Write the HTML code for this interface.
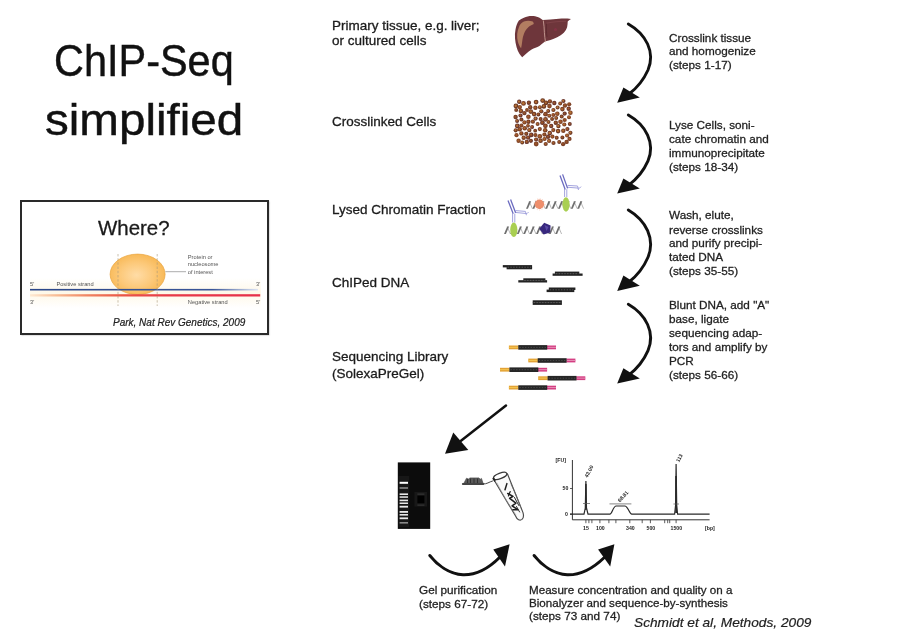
<!DOCTYPE html>
<html><head><meta charset="utf-8"><title>ChIP-Seq simplified</title>
<style>
html,body{margin:0;padding:0;background:#fff;}
body{width:902px;height:631px;position:relative;overflow:hidden;font-family:"Liberation Sans",sans-serif;color:#222;}
.t{position:absolute;white-space:nowrap;transform-origin:0 0;line-height:1;}
.title{font-size:44.7px;color:#111;-webkit-text-stroke:.45px #111;}
.lab{font-size:13px;color:#1c1c1c;transform:scaleX(1.037);-webkit-text-stroke:.3px #1c1c1c;}
.step{font-size:11.4px;color:#222;transform:scaleX(1.03);-webkit-text-stroke:.28px #222;}
.cite{font-style:italic;color:#222;-webkit-text-stroke:.2px #222;}
svg{position:absolute;left:0;top:0;}
#slide{position:absolute;left:0;top:0;width:902px;height:631px;background:#fff;filter:blur(.5px);}
.box{position:absolute;left:19.8px;top:199.8px;width:249.6px;height:135.7px;border:2px solid #2a2a2a;box-shadow:.5px .5px 1.5px rgba(0,0,0,.35);background:#fff;box-sizing:border-box;}
</style></head><body>
<div id="slide">
<div class="t title" id="t1" style="left:54px;top:38.7px;transform:scaleX(.9275)">ChIP-Seq</div>
<div class="t title" id="t2" style="left:45px;top:98.2px;transform:scaleX(1.064)">simplified</div>
<div class="box"></div>
<div class="t" id="where" style="left:97.6px;top:217.9px;font-size:20px;color:#1a1a1a;-webkit-text-stroke:.3px #1a1a1a;transform:scaleX(1.022)">Where?</div>
<div class="t cite" id="park" style="left:113px;top:318.1px;font-size:10px;">Park, Nat Rev Genetics, 2009</div>

<div class="t lab" id="l1a" style="left:332.3px;top:18.5px;">Primary tissue, e.g. liver;</div>
<div class="t lab" id="l1b" style="left:332.3px;top:33.6px;">or cultured cells</div>
<div class="t lab" id="l2" style="left:332.3px;top:114.6px;">Crosslinked Cells</div>
<div class="t lab" id="l3" style="left:332.3px;top:202.6px;">Lysed Chromatin Fraction</div>
<div class="t lab" id="l4" style="left:332.3px;top:276.2px;">ChIPed DNA</div>
<div class="t lab" id="l5a" style="left:332.3px;top:350.3px;">Sequencing Library</div>
<div class="t lab" id="l5b" style="left:332.3px;top:366.6px;">(SolexaPreGel)</div>

<div class="t step" id="s1a" style="left:669px;top:32.65px;">Crosslink tissue</div>
<div class="t step" id="s1b" style="left:669px;top:46.25px;">and homogenize</div>
<div class="t step" id="s1c" style="left:669px;top:59.95px;">(steps 1-17)</div>

<div class="t step" id="s2a" style="left:669px;top:120.35px;">Lyse Cells, soni-</div>
<div class="t step" id="s2b" style="left:669px;top:134.25px;">cate chromatin and</div>
<div class="t step" id="s2c" style="left:669px;top:148.15px;">immunoprecipitate</div>
<div class="t step" id="s2d" style="left:669px;top:161.95px;">(steps 18-34)</div>

<div class="t step" id="s3a" style="left:669px;top:210.35px;">Wash, elute,</div>
<div class="t step" id="s3b" style="left:669px;top:224.55px;">reverse crosslinks</div>
<div class="t step" id="s3c" style="left:669px;top:238.15px;">and purify precipi-</div>
<div class="t step" id="s3d" style="left:669px;top:252.45px;">tated DNA</div>
<div class="t step" id="s3e" style="left:669px;top:265.95px;">(steps 35-55)</div>

<div class="t step" id="s4a" style="left:669px;top:300.35px;">Blunt DNA, add "A"</div>
<div class="t step" id="s4b" style="left:669px;top:313.85px;">base, ligate</div>
<div class="t step" id="s4c" style="left:669px;top:327.85px;">sequencing adap-</div>
<div class="t step" id="s4d" style="left:669px;top:341.95px;">tors and amplify by</div>
<div class="t step" id="s4e" style="left:669px;top:356.25px;">PCR</div>
<div class="t step" id="s4f" style="left:669px;top:369.55px;">(steps 56-66)</div>

<div class="t step" id="g1" style="left:419.3px;top:584.9px;">Gel purification</div>
<div class="t step" id="g2" style="left:419.3px;top:598.7px;">(steps 67-72)</div>
<div class="t step" id="m1" style="left:529.4px;top:584.55px;transform:scaleX(1.02);">Measure concentration and quality on a</div>
<div class="t step" id="m2" style="left:529.4px;top:598.25px;transform:scaleX(1.02);">Bionalyzer and sequence-by-synthesis</div>
<div class="t step" id="m3" style="left:529.4px;top:611.35px;">(steps 73 and 74)</div>
<div class="t cite" id="schmidt" style="left:633.8px;top:616.4px;font-size:13.3px;transform:scaleX(1.03)">Schmidt et al, Methods, 2009</div>

<svg id="art" width="902" height="631" viewBox="0 0 902 631">
<defs>
<radialGradient id="og" cx="48%" cy="52%" r="58%"><stop offset="0" stop-color="#ffdca6"/><stop offset=".55" stop-color="#fcc878"/><stop offset="1" stop-color="#f7b54e"/></radialGradient>
<linearGradient id="bl" x1="0" x2="1"><stop offset="0" stop-color="#2a4688"/><stop offset=".8" stop-color="#3a5698"/><stop offset="1" stop-color="#dfe6f4"/></linearGradient>
<linearGradient id="rd" x1="0" x2="1"><stop offset="0" stop-color="#fdead4"/><stop offset=".12" stop-color="#f8ba92"/><stop offset=".25" stop-color="#f08462"/><stop offset=".4" stop-color="#ea5646"/><stop offset=".6" stop-color="#e83a48"/><stop offset="1" stop-color="#e6304a"/></linearGradient>
<linearGradient id="yb" x1="0" x2="0" y1="0" y2="1"><stop offset="0" stop-color="#fff" /><stop offset=".5" stop-color="#fef8e8"/><stop offset="1" stop-color="#fff"/></linearGradient>
</defs>

<!-- Where? inset -->
<g id="inset">
<rect x="30" y="278" width="231" height="30" fill="url(#yb)"/>
<ellipse cx="137.6" cy="274.3" rx="27.5" ry="20.2" fill="url(#og)" stroke="#e9a43c" stroke-width="0.7"/>
<rect x="30" y="288.9" width="228" height="1.6" fill="url(#bl)"/>
<rect x="30" y="294.2" width="230.2" height="2.3" fill="url(#rd)"/>
<path d="M118 254 V306 M157.2 254 V306" stroke="#a8987a" stroke-width=".6" stroke-dasharray="2.4 1.8" fill="none"/>
<path d="M165.4 271.7 H186" stroke="#888" stroke-width=".7"/>
<g font-family="Liberation Sans, sans-serif" font-size="5.7" fill="#555">
<text x="30" y="286">5'</text><text x="56.4" y="286">Positive strand</text><text x="256" y="286">3'</text>
<text x="30" y="303.8">3'</text><text x="187.8" y="303.8">Negative strand</text><text x="256" y="303.8">5'</text>
<text x="187.8" y="259.2">Protein or</text><text x="187.8" y="266.4">nucleosome</text><text x="187.8" y="273.5">of interest</text>
</g>
</g>

<!-- liver -->
<g id="liver">
<path d="M518.9 20.5 C520.4 19.3 522 18.4 523.9 17.8 C526.3 16.8 529 16.1 531.6 16.1 C534 16.1 536.4 16.5 538.3 17.2 C540 17.9 541.4 19.2 542.7 20 C545.2 19.9 548 19.6 550.5 19.4 C554.2 19.1 558 18.7 561.6 18.5 C564.8 18.4 568 18.5 571 18.9 C569.6 19.6 568.4 20.5 567.7 21.6 C567.6 23.5 567.6 25.4 567.1 27.2 C566.4 29.2 565.2 31.1 563.8 32.7 C561.9 34.6 559.6 36.1 557.2 37.2 C555 38.3 552.7 39.2 550.5 40 C548.6 40.6 546.8 41 545 41.6 C543 42.9 541.2 44.6 539.4 46 C536.9 47.4 534.2 48.2 531.6 49.4 C529.6 50.6 527.8 52.3 526.1 53.8 C524.8 55 523.5 56.2 522.2 57.2 C521.1 56.3 520.2 55.1 519.4 53.8 C518.2 51.7 517.3 49.5 516.6 47.2 C515.8 44.3 515.2 41.3 515 38.3 C514.8 35.3 514.9 32.3 515.5 29.4 C516.1 26.2 517.1 23 518.9 20.5 Z" fill="#6e363b"/>
<path d="M518.9 27.2 C519.8 24.6 521.5 22.7 523.9 21.6 C526.7 20.5 530 20.6 532.7 21.6 C533.3 22.3 533.7 23.1 533.8 23.9 C531.7 24.7 529.8 25.7 528.3 27.2 C526.3 29.1 524.9 31.4 523.9 33.9 C522.9 36.4 522.5 39 522.2 41.6 C521.9 43.9 521.6 46.1 521.1 48.3 C519.5 46.4 518.4 44.1 517.8 41.6 C517.2 39.1 517 36.5 517.2 33.9 C517.4 31.6 518 29.3 518.9 27.2 Z" fill="#b27d61"/>
<path d="M543.3 20.5 C544 24.5 544.2 28.6 544.4 32.7 C544.6 35.9 545 39 545.5 42.2" stroke="#d2aaa0" stroke-width=".8" fill="none"/>
<path d="M546.5 23.6 C546.2 28 546.3 32.5 547 37" stroke="#55262b" stroke-width=".7" fill="none"/>
<path d="M546.5 23.2 C552 22 560 21.2 566 21.3" stroke="#8a4a50" stroke-width=".6" fill="none"/>
<circle cx="555.5" cy="29.5" r="1.6" fill="#8c3048" opacity=".7"/>
</g>

<!-- cells -->
<g id="cells"><circle cx="549.8" cy="133.1" r="2.3" fill="#6a3830"/><circle cx="549.6" cy="132.9" r="1.2" fill="#b87434"/><circle cx="559.2" cy="142.0" r="2.0" fill="#6e3a26"/><circle cx="559.0" cy="141.8" r="1.0" fill="#a45a2a"/><circle cx="517.1" cy="121.0" r="2.0" fill="#6a3830"/><circle cx="516.9" cy="120.8" r="1.0" fill="#b06a30"/><circle cx="567.4" cy="129.1" r="2.1" fill="#6a3830"/><circle cx="567.2" cy="128.9" r="1.1" fill="#a45a2a"/><circle cx="565.0" cy="105.5" r="2.2" fill="#82462a"/><circle cx="564.8" cy="105.3" r="1.1" fill="#985428"/><circle cx="541.3" cy="111.3" r="2.1" fill="#74402c"/><circle cx="541.1" cy="111.1" r="1.1" fill="#a8602c"/><circle cx="545.4" cy="125.8" r="2.4" fill="#7a4028"/><circle cx="545.2" cy="125.6" r="1.2" fill="#a45a2a"/><circle cx="516.2" cy="110.0" r="2.0" fill="#74402c"/><circle cx="516.0" cy="109.8" r="1.0" fill="#985428"/><circle cx="530.9" cy="140.8" r="2.1" fill="#6a3830"/><circle cx="530.7" cy="140.6" r="1.1" fill="#985428"/><circle cx="557.6" cy="107.5" r="2.0" fill="#74402c"/><circle cx="557.4" cy="107.3" r="1.0" fill="#b87434"/><circle cx="549.5" cy="106.1" r="2.3" fill="#82462a"/><circle cx="549.3" cy="105.9" r="1.1" fill="#985428"/><circle cx="527.0" cy="110.0" r="1.9" fill="#7a4028"/><circle cx="526.8" cy="109.8" r="1.0" fill="#985428"/><circle cx="569.5" cy="138.9" r="2.1" fill="#7a4028"/><circle cx="569.3" cy="138.7" r="1.0" fill="#a8602c"/><circle cx="545.2" cy="130.3" r="2.3" fill="#7a4028"/><circle cx="545.0" cy="130.1" r="1.2" fill="#a8602c"/><circle cx="526.8" cy="141.9" r="2.2" fill="#6a3830"/><circle cx="526.6" cy="141.7" r="1.1" fill="#a8602c"/><circle cx="553.5" cy="143.0" r="2.1" fill="#74402c"/><circle cx="553.3" cy="142.8" r="1.0" fill="#a8602c"/><circle cx="564.7" cy="113.6" r="2.1" fill="#6a3830"/><circle cx="564.5" cy="113.4" r="1.0" fill="#985428"/><circle cx="535.4" cy="107.8" r="2.2" fill="#7a4028"/><circle cx="535.2" cy="107.6" r="1.1" fill="#a8602c"/><circle cx="523.5" cy="103.4" r="2.4" fill="#7a4028"/><circle cx="523.3" cy="103.2" r="1.2" fill="#b87434"/><circle cx="532.1" cy="127.0" r="2.0" fill="#6a3830"/><circle cx="531.9" cy="126.8" r="1.0" fill="#a8602c"/><circle cx="515.7" cy="130.3" r="2.1" fill="#6e3a26"/><circle cx="515.5" cy="130.1" r="1.0" fill="#b06a30"/><circle cx="534.1" cy="114.1" r="2.3" fill="#6e3a26"/><circle cx="533.9" cy="113.9" r="1.2" fill="#a8602c"/><circle cx="560.5" cy="121.7" r="2.3" fill="#82462a"/><circle cx="560.3" cy="121.5" r="1.2" fill="#a45a2a"/><circle cx="532.9" cy="121.7" r="2.1" fill="#74402c"/><circle cx="532.7" cy="121.5" r="1.1" fill="#a8602c"/><circle cx="554.3" cy="103.0" r="2.2" fill="#6a3830"/><circle cx="554.1" cy="102.8" r="1.1" fill="#985428"/><circle cx="556.7" cy="137.7" r="2.0" fill="#6e3a26"/><circle cx="556.5" cy="137.5" r="1.0" fill="#a8602c"/><circle cx="516.5" cy="135.2" r="2.1" fill="#82462a"/><circle cx="516.3" cy="135.0" r="1.0" fill="#a45a2a"/><circle cx="526.3" cy="133.8" r="2.1" fill="#6e3a26"/><circle cx="526.1" cy="133.6" r="1.1" fill="#985428"/><circle cx="566.6" cy="141.9" r="2.2" fill="#7a4028"/><circle cx="566.4" cy="141.7" r="1.1" fill="#985428"/><circle cx="544.4" cy="134.6" r="2.1" fill="#7a4028"/><circle cx="544.2" cy="134.4" r="1.1" fill="#985428"/><circle cx="521.4" cy="133.4" r="2.2" fill="#7a4028"/><circle cx="521.2" cy="133.2" r="1.1" fill="#a45a2a"/><circle cx="520.5" cy="115.5" r="2.1" fill="#6a3830"/><circle cx="520.3" cy="115.3" r="1.0" fill="#a45a2a"/><circle cx="549.1" cy="140.9" r="2.1" fill="#82462a"/><circle cx="548.9" cy="140.7" r="1.0" fill="#b87434"/><circle cx="545.5" cy="114.2" r="2.4" fill="#7a4028"/><circle cx="545.3" cy="114.0" r="1.2" fill="#985428"/><circle cx="519.8" cy="107.1" r="2.2" fill="#82462a"/><circle cx="519.6" cy="106.9" r="1.1" fill="#a8602c"/><circle cx="569.8" cy="124.0" r="2.0" fill="#6a3830"/><circle cx="569.6" cy="123.8" r="1.0" fill="#a8602c"/><circle cx="540.6" cy="119.1" r="2.0" fill="#6e3a26"/><circle cx="540.4" cy="118.9" r="1.0" fill="#985428"/><circle cx="518.6" cy="140.8" r="2.2" fill="#82462a"/><circle cx="518.4" cy="140.6" r="1.1" fill="#a8602c"/><circle cx="521.4" cy="119.6" r="2.0" fill="#6e3a26"/><circle cx="521.2" cy="119.4" r="1.0" fill="#985428"/><circle cx="523.7" cy="137.7" r="2.2" fill="#7a4028"/><circle cx="523.5" cy="137.5" r="1.1" fill="#b06a30"/><circle cx="536.2" cy="144.0" r="2.4" fill="#82462a"/><circle cx="536.0" cy="143.8" r="1.2" fill="#985428"/><circle cx="535.4" cy="135.1" r="2.1" fill="#82462a"/><circle cx="535.2" cy="134.9" r="1.0" fill="#985428"/><circle cx="558.1" cy="131.1" r="2.3" fill="#6e3a26"/><circle cx="557.9" cy="130.9" r="1.2" fill="#b06a30"/><circle cx="551.2" cy="126.0" r="2.2" fill="#6a3830"/><circle cx="551.0" cy="125.8" r="1.1" fill="#a45a2a"/><circle cx="529.3" cy="130.1" r="2.2" fill="#74402c"/><circle cx="529.1" cy="129.9" r="1.1" fill="#b06a30"/><circle cx="563.3" cy="130.8" r="2.2" fill="#7a4028"/><circle cx="563.1" cy="130.6" r="1.1" fill="#b06a30"/><circle cx="558.4" cy="126.1" r="2.2" fill="#6e3a26"/><circle cx="558.2" cy="125.9" r="1.1" fill="#b87434"/><circle cx="552.1" cy="119.0" r="2.0" fill="#74402c"/><circle cx="551.9" cy="118.8" r="1.0" fill="#985428"/><circle cx="539.8" cy="129.1" r="2.1" fill="#74402c"/><circle cx="539.6" cy="128.9" r="1.0" fill="#b06a30"/><circle cx="536.1" cy="102.1" r="2.4" fill="#6e3a26"/><circle cx="535.9" cy="101.9" r="1.2" fill="#b06a30"/><circle cx="521.4" cy="125.4" r="2.0" fill="#82462a"/><circle cx="521.2" cy="125.2" r="1.0" fill="#985428"/><circle cx="569.0" cy="117.2" r="2.0" fill="#82462a"/><circle cx="568.8" cy="117.0" r="1.0" fill="#a8602c"/><circle cx="538.4" cy="114.5" r="2.0" fill="#6e3a26"/><circle cx="538.2" cy="114.3" r="1.0" fill="#a45a2a"/><circle cx="530.2" cy="107.3" r="2.2" fill="#74402c"/><circle cx="530.0" cy="107.1" r="1.1" fill="#985428"/><circle cx="557.3" cy="113.7" r="2.3" fill="#82462a"/><circle cx="557.1" cy="113.5" r="1.2" fill="#a8602c"/><circle cx="540.6" cy="140.8" r="2.3" fill="#6e3a26"/><circle cx="540.4" cy="140.6" r="1.2" fill="#b06a30"/><circle cx="564.3" cy="124.5" r="2.1" fill="#82462a"/><circle cx="564.1" cy="124.3" r="1.1" fill="#b06a30"/><circle cx="562.4" cy="109.1" r="2.3" fill="#7a4028"/><circle cx="562.2" cy="108.9" r="1.2" fill="#a8602c"/><circle cx="531.2" cy="134.9" r="2.3" fill="#6a3830"/><circle cx="531.0" cy="134.7" r="1.1" fill="#a45a2a"/><circle cx="560.2" cy="103.5" r="2.0" fill="#7a4028"/><circle cx="560.0" cy="103.3" r="1.0" fill="#b06a30"/><circle cx="548.5" cy="122.0" r="2.0" fill="#74402c"/><circle cx="548.3" cy="121.8" r="1.0" fill="#b06a30"/><circle cx="543.9" cy="106.4" r="2.3" fill="#6e3a26"/><circle cx="543.7" cy="106.2" r="1.1" fill="#b87434"/><circle cx="528.4" cy="116.8" r="2.3" fill="#82462a"/><circle cx="528.2" cy="116.6" r="1.1" fill="#a45a2a"/><circle cx="548.2" cy="111.0" r="2.0" fill="#6e3a26"/><circle cx="548.0" cy="110.8" r="1.0" fill="#b06a30"/><circle cx="549.3" cy="115.8" r="2.0" fill="#7a4028"/><circle cx="549.1" cy="115.6" r="1.0" fill="#b87434"/><circle cx="556.2" cy="117.9" r="2.0" fill="#74402c"/><circle cx="556.0" cy="117.7" r="1.0" fill="#b06a30"/><circle cx="524.4" cy="113.1" r="2.2" fill="#74402c"/><circle cx="524.2" cy="112.9" r="1.1" fill="#985428"/><circle cx="528.4" cy="121.7" r="2.2" fill="#6e3a26"/><circle cx="528.2" cy="121.5" r="1.1" fill="#a45a2a"/><circle cx="553.3" cy="130.1" r="2.1" fill="#82462a"/><circle cx="553.1" cy="129.9" r="1.0" fill="#a8602c"/><circle cx="545.7" cy="144.0" r="2.1" fill="#74402c"/><circle cx="545.5" cy="143.8" r="1.1" fill="#a8602c"/><circle cx="528.9" cy="102.7" r="2.2" fill="#6a3830"/><circle cx="528.7" cy="102.5" r="1.1" fill="#985428"/><circle cx="537.6" cy="123.9" r="2.0" fill="#74402c"/><circle cx="537.4" cy="123.7" r="1.0" fill="#b06a30"/><circle cx="539.8" cy="136.4" r="2.4" fill="#7a4028"/><circle cx="539.6" cy="136.2" r="1.2" fill="#a8602c"/><circle cx="567.1" cy="135.5" r="2.1" fill="#82462a"/><circle cx="566.9" cy="135.3" r="1.1" fill="#b06a30"/><circle cx="517.3" cy="125.9" r="2.4" fill="#6a3830"/><circle cx="517.1" cy="125.7" r="1.2" fill="#b06a30"/><circle cx="524.7" cy="128.3" r="2.3" fill="#7a4028"/><circle cx="524.5" cy="128.1" r="1.1" fill="#b06a30"/><circle cx="568.7" cy="108.7" r="2.2" fill="#6a3830"/><circle cx="568.5" cy="108.5" r="1.1" fill="#a45a2a"/><circle cx="555.8" cy="122.7" r="2.2" fill="#6e3a26"/><circle cx="555.6" cy="122.5" r="1.1" fill="#a45a2a"/><circle cx="542.7" cy="100.6" r="2.4" fill="#6e3a26"/><circle cx="542.5" cy="100.4" r="1.2" fill="#b87434"/><circle cx="553.4" cy="110.0" r="2.1" fill="#74402c"/><circle cx="553.2" cy="109.8" r="1.1" fill="#b06a30"/><circle cx="561.7" cy="116.6" r="2.0" fill="#6e3a26"/><circle cx="561.5" cy="116.4" r="1.0" fill="#a45a2a"/><circle cx="539.9" cy="107.2" r="2.0" fill="#74402c"/><circle cx="539.7" cy="107.0" r="1.0" fill="#b87434"/><circle cx="562.4" cy="137.5" r="2.0" fill="#6e3a26"/><circle cx="562.2" cy="137.3" r="1.0" fill="#985428"/><circle cx="549.9" cy="101.4" r="2.2" fill="#7a4028"/><circle cx="549.7" cy="101.2" r="1.1" fill="#a45a2a"/><circle cx="564.7" cy="120.0" r="2.1" fill="#82462a"/><circle cx="564.5" cy="119.8" r="1.1" fill="#985428"/><circle cx="553.3" cy="115.0" r="2.0" fill="#82462a"/><circle cx="553.1" cy="114.8" r="1.0" fill="#a45a2a"/><circle cx="522.2" cy="142.5" r="1.9" fill="#6e3a26"/><circle cx="522.0" cy="142.3" r="1.0" fill="#b87434"/><circle cx="535.2" cy="130.7" r="1.9" fill="#6e3a26"/><circle cx="535.0" cy="130.5" r="1.0" fill="#985428"/><circle cx="515.6" cy="117.0" r="2.2" fill="#74402c"/><circle cx="515.4" cy="116.8" r="1.1" fill="#985428"/><circle cx="545.5" cy="119.3" r="2.4" fill="#74402c"/><circle cx="545.3" cy="119.1" r="1.2" fill="#a8602c"/><circle cx="552.4" cy="136.6" r="2.1" fill="#82462a"/><circle cx="552.2" cy="136.4" r="1.0" fill="#a8602c"/><circle cx="515.9" cy="105.9" r="2.4" fill="#6e3a26"/><circle cx="515.7" cy="105.7" r="1.2" fill="#b87434"/><circle cx="570.4" cy="112.7" r="2.3" fill="#82462a"/><circle cx="570.2" cy="112.5" r="1.2" fill="#b87434"/><circle cx="536.1" cy="139.5" r="2.1" fill="#6a3830"/><circle cx="535.9" cy="139.3" r="1.1" fill="#a8602c"/><circle cx="519.7" cy="129.3" r="2.3" fill="#7a4028"/><circle cx="519.5" cy="129.1" r="1.1" fill="#a8602c"/><circle cx="569.2" cy="104.3" r="2.1" fill="#82462a"/><circle cx="569.0" cy="104.1" r="1.0" fill="#985428"/><circle cx="544.5" cy="139.0" r="2.1" fill="#7a4028"/><circle cx="544.3" cy="138.8" r="1.1" fill="#b06a30"/><circle cx="563.4" cy="101.0" r="2.1" fill="#6a3830"/><circle cx="563.2" cy="100.8" r="1.0" fill="#b87434"/><circle cx="535.6" cy="118.6" r="2.1" fill="#6a3830"/><circle cx="535.4" cy="118.4" r="1.1" fill="#b87434"/><circle cx="570.4" cy="132.8" r="2.1" fill="#74402c"/><circle cx="570.2" cy="132.6" r="1.0" fill="#b87434"/><circle cx="548.0" cy="136.8" r="2.2" fill="#6a3830"/><circle cx="547.8" cy="136.6" r="1.1" fill="#985428"/><circle cx="542.4" cy="122.7" r="2.4" fill="#6a3830"/><circle cx="542.2" cy="122.5" r="1.2" fill="#985428"/><circle cx="524.4" cy="122.4" r="2.1" fill="#82462a"/><circle cx="524.2" cy="122.2" r="1.1" fill="#a8602c"/><circle cx="519.2" cy="101.8" r="2.2" fill="#6a3830"/><circle cx="519.0" cy="101.6" r="1.1" fill="#b87434"/><circle cx="528.1" cy="137.6" r="2.2" fill="#6a3830"/><circle cx="527.9" cy="137.4" r="1.1" fill="#a45a2a"/><circle cx="563.1" cy="144.2" r="2.1" fill="#7a4028"/><circle cx="562.9" cy="144.0" r="1.0" fill="#985428"/><circle cx="530.8" cy="111.6" r="2.4" fill="#74402c"/><circle cx="530.6" cy="111.4" r="1.2" fill="#b06a30"/><circle cx="520.9" cy="111.0" r="2.3" fill="#74402c"/><circle cx="520.7" cy="110.8" r="1.2" fill="#b06a30"/><circle cx="528.0" cy="125.8" r="1.9" fill="#7a4028"/><circle cx="527.8" cy="125.6" r="1.0" fill="#a8602c"/><circle cx="546.0" cy="102.9" r="2.3" fill="#6e3a26"/><circle cx="545.8" cy="102.7" r="1.1" fill="#b06a30"/></g>

<!-- chromatin -->
<g id="chromatin" fill="none">
<path d="M529.2 201.3 L532.4 208.7" stroke="#b9b9b9" stroke-width="1"/><path d="M526.0 208.7 L529.2 201.3 L531.1 201.3 L527.9 208.7 Z" fill="#6f6f6f" stroke="none"/><path d="M535.6 201.3 L538.8 208.7" stroke="#b9b9b9" stroke-width="1"/><path d="M532.4 208.7 L535.6 201.3 L537.5 201.3 L534.3 208.7 Z" fill="#6f6f6f" stroke="none"/><path d="M542.0 201.3 L545.2 208.7" stroke="#b9b9b9" stroke-width="1"/><path d="M538.8 208.7 L542.0 201.3 L543.9 201.3 L540.7 208.7 Z" fill="#6f6f6f" stroke="none"/><path d="M548.4 201.3 L551.6 208.7" stroke="#b9b9b9" stroke-width="1"/><path d="M545.2 208.7 L548.4 201.3 L550.3 201.3 L547.1 208.7 Z" fill="#6f6f6f" stroke="none"/><path d="M554.8 201.3 L558.0 208.7" stroke="#b9b9b9" stroke-width="1"/><path d="M551.6 208.7 L554.8 201.3 L556.7 201.3 L553.5 208.7 Z" fill="#6f6f6f" stroke="none"/><path d="M561.2 201.3 L564.4 208.7" stroke="#b9b9b9" stroke-width="1"/><path d="M558.0 208.7 L561.2 201.3 L563.1 201.3 L559.9 208.7 Z" fill="#6f6f6f" stroke="none"/><path d="M567.6 201.3 L570.8 208.7" stroke="#b9b9b9" stroke-width="1"/><path d="M564.4 208.7 L567.6 201.3 L569.5 201.3 L566.3 208.7 Z" fill="#6f6f6f" stroke="none"/><path d="M574.0 201.3 L577.2 208.7" stroke="#b9b9b9" stroke-width="1"/><path d="M570.8 208.7 L574.0 201.3 L575.9 201.3 L572.7 208.7 Z" fill="#6f6f6f" stroke="none"/><path d="M580.4 201.3 L583.6 208.7" stroke="#b9b9b9" stroke-width="1"/><path d="M577.2 208.7 L580.4 201.3 L582.3 201.3 L579.1 208.7 Z" fill="#6f6f6f" stroke="none"/>
<path d="M507.2 226.6 L510.4 234.0" stroke="#b9b9b9" stroke-width="1"/><path d="M504.0 234.0 L507.2 226.6 L509.1 226.6 L505.9 234.0 Z" fill="#6f6f6f" stroke="none"/><path d="M513.6 226.6 L516.8 234.0" stroke="#b9b9b9" stroke-width="1"/><path d="M510.4 234.0 L513.6 226.6 L515.5 226.6 L512.3 234.0 Z" fill="#6f6f6f" stroke="none"/><path d="M520.0 226.6 L523.2 234.0" stroke="#b9b9b9" stroke-width="1"/><path d="M516.8 234.0 L520.0 226.6 L521.9 226.6 L518.7 234.0 Z" fill="#6f6f6f" stroke="none"/><path d="M526.4 226.6 L529.6 234.0" stroke="#b9b9b9" stroke-width="1"/><path d="M523.2 234.0 L526.4 226.6 L528.3 226.6 L525.1 234.0 Z" fill="#6f6f6f" stroke="none"/><path d="M532.8 226.6 L536.0 234.0" stroke="#b9b9b9" stroke-width="1"/><path d="M529.6 234.0 L532.8 226.6 L534.7 226.6 L531.5 234.0 Z" fill="#6f6f6f" stroke="none"/><path d="M539.2 226.6 L542.4 234.0" stroke="#b9b9b9" stroke-width="1"/><path d="M536.0 234.0 L539.2 226.6 L541.1 226.6 L537.9 234.0 Z" fill="#6f6f6f" stroke="none"/><path d="M545.6 226.6 L548.8 234.0" stroke="#b9b9b9" stroke-width="1"/><path d="M542.4 234.0 L545.6 226.6 L547.5 226.6 L544.3 234.0 Z" fill="#6f6f6f" stroke="none"/><path d="M552.0 226.6 L555.2 234.0" stroke="#b9b9b9" stroke-width="1"/><path d="M548.8 234.0 L552.0 226.6 L553.9 226.6 L550.7 234.0 Z" fill="#6f6f6f" stroke="none"/><path d="M558.4 226.6 L561.6 234.0" stroke="#b9b9b9" stroke-width="1"/><path d="M555.2 234.0 L558.4 226.6 L560.3 226.6 L557.1 234.0 Z" fill="#6f6f6f" stroke="none"/>
<circle cx="539.4" cy="204.3" r="4.7" fill="#ee8e6c"/><circle cx="539.4" cy="204.3" r="5.6" fill="none" stroke="#f2b49c" stroke-width=".6" stroke-dasharray="1 1.6"/>
<ellipse cx="566" cy="204.5" rx="3.6" ry="7.2" fill="#a9cf52"/>
<ellipse cx="513.8" cy="229.8" rx="3.6" ry="7.2" fill="#a9cf52"/>
<path d="M544.2 222.8 L550.6 225.6 L550.2 232.6 L543.6 234.6 L539.2 228.8 Z" fill="#38287e"/><path d="M544.5 225 L548.5 227 L546.5 231 Z" fill="#5a4aa6"/>
<g stroke="#a4a4de" stroke-width="1">
<path d="M564.6 197 V189.2 M566.8 197 V189.2"/>
<path d="M512.6 222.5 V213.6 M514.8 222.5 V213.6"/>
<path d="M567 187.2 L579.5 188.2 L581 186.6 M567.6 185.4 L577.5 186 L578.5 190"/>
<path d="M515 212.4 L527 213.6 L528.6 212 M515.6 210.6 L525.4 211.4 L526.4 215.2"/>
</g>
<g stroke="#6c6cc0" stroke-width="1.3">
<path d="M565.2 189.4 L560 175.4 M567.6 188.4 L562.6 174.4"/>
<path d="M513.2 213.8 L508 200.4 M515.6 212.8 L510.6 199.4"/>
</g>
</g>

<!-- ChIPed DNA -->
<g id="chip">
<rect x="502.8" y="265.1" width="29.3" height="2.3" fill="#222"/><rect x="506.6" y="267.0" width="25.5" height="2.3" fill="#222"/><path d="M507.6 267.2 H531.1" stroke="#8a8a8a" stroke-width=".5" stroke-dasharray="1.4 1.4"/>
<rect x="554.9" y="271.6" width="24.4" height="2.3" fill="#222"/><rect x="552.6" y="273.5" width="30.0" height="2.3" fill="#222"/><path d="M555.9 273.7 H578.3" stroke="#8a8a8a" stroke-width=".5" stroke-dasharray="1.4 1.4"/>
<rect x="523.3" y="278.3" width="22.1" height="2.3" fill="#222"/><rect x="518.3" y="280.2" width="28.8" height="2.3" fill="#222"/><path d="M524.3 280.4 H544.4" stroke="#8a8a8a" stroke-width=".5" stroke-dasharray="1.4 1.4"/>
<rect x="548.8" y="287.5" width="26.6" height="2.5" fill="#222"/><rect x="546.6" y="289.6" width="27.7" height="2.5" fill="#222"/><path d="M549.8 289.8 H573.3" stroke="#8a8a8a" stroke-width=".5" stroke-dasharray="1.4 1.4"/>
<rect x="532.7" y="300.3" width="29.2" height="2.5" fill="#222"/><rect x="532.7" y="302.4" width="29.2" height="2.5" fill="#222"/><path d="M533.7 302.6 H560.9" stroke="#8a8a8a" stroke-width=".5" stroke-dasharray="1.4 1.4"/>
</g>

<!-- library -->
<g id="lib">
<rect x="508.9" y="345.5" width="9.6" height="3.8" fill="#e3a235"/><rect x="508.9" y="346.79999999999995" width="9.2" height="1.1" fill="#f3c450"/><rect x="546.9" y="345.5" width="9.1" height="3.8" fill="#d43e82"/><rect x="547.3" y="346.84999999999997" width="8.7" height="1.0" fill="#e58fb6"/><rect x="518.3" y="345.09999999999997" width="28.9" height="4.6" fill="#262626"/><path d="M519.4 347.4 H546.4" stroke="#6a6a6a" stroke-width=".5" stroke-dasharray="1.4 1.4"/>
<rect x="528.3" y="358.6" width="9.6" height="3.8" fill="#e3a235"/><rect x="528.3" y="359.9" width="9.2" height="1.1" fill="#f3c450"/><rect x="566.3" y="358.6" width="9.1" height="3.8" fill="#d43e82"/><rect x="566.6999999999999" y="359.95" width="8.7" height="1.0" fill="#e58fb6"/><rect x="537.6999999999999" y="358.2" width="28.9" height="4.6" fill="#262626"/><path d="M538.8 360.5 H565.8" stroke="#6a6a6a" stroke-width=".5" stroke-dasharray="1.4 1.4"/>
<rect x="500" y="367.8" width="9.6" height="3.8" fill="#e3a235"/><rect x="500" y="369.09999999999997" width="9.2" height="1.1" fill="#f3c450"/><rect x="538.0" y="367.8" width="9.1" height="3.8" fill="#d43e82"/><rect x="538.4" y="369.15" width="8.7" height="1.0" fill="#e58fb6"/><rect x="509.4" y="367.4" width="28.9" height="4.6" fill="#262626"/><path d="M510.5 369.7 H537.5" stroke="#6a6a6a" stroke-width=".5" stroke-dasharray="1.4 1.4"/>
<rect x="538.2" y="376.3" width="9.6" height="3.8" fill="#e3a235"/><rect x="538.2" y="377.59999999999997" width="9.2" height="1.1" fill="#f3c450"/><rect x="576.2" y="376.3" width="9.1" height="3.8" fill="#d43e82"/><rect x="576.6" y="377.65" width="8.7" height="1.0" fill="#e58fb6"/><rect x="547.6" y="375.9" width="28.9" height="4.6" fill="#262626"/><path d="M548.7 378.2 H575.7" stroke="#6a6a6a" stroke-width=".5" stroke-dasharray="1.4 1.4"/>
<rect x="508.9" y="385.70000000000005" width="9.6" height="3.8" fill="#e3a235"/><rect x="508.9" y="387.0" width="9.2" height="1.1" fill="#f3c450"/><rect x="546.9" y="385.70000000000005" width="9.1" height="3.8" fill="#d43e82"/><rect x="547.3" y="387.05" width="8.7" height="1.0" fill="#e58fb6"/><rect x="518.3" y="385.3" width="28.9" height="4.6" fill="#262626"/><path d="M519.4 387.6 H546.4" stroke="#6a6a6a" stroke-width=".5" stroke-dasharray="1.4 1.4"/>
</g>

<!-- curved arrows on right -->
<g id="arrows">
<path d="M628.3 23.9 C646 34.0 655.5 52.0 648 70.0 C644 79.0 637 88.0 629 94.0" fill="none" stroke="#111" stroke-width="2.9" stroke-linecap="round"/><path d="M617.2 102.7 L623.4 87.6 L639.8 97.6 Z" fill="#111"/>
<path d="M628.3 115.0 C646 125.1 655.5 143.0 648 160.9 C644 169.9 637 178.9 629 184.8" fill="none" stroke="#111" stroke-width="2.9" stroke-linecap="round"/><path d="M617.2 193.5 L623.4 178.5 L639.8 188.4 Z" fill="#111"/>
<path d="M628.3 210.0 C646 220.4 655.5 238.9 648 257.3 C644 266.6 637 275.8 629 282.0" fill="none" stroke="#111" stroke-width="2.9" stroke-linecap="round"/><path d="M617.2 290.9 L623.4 275.4 L639.8 285.7 Z" fill="#111"/>
<path d="M628.3 304.3 C646 314.5 655.5 332.5 648 350.6 C644 359.7 637 368.7 629 374.8" fill="none" stroke="#111" stroke-width="2.9" stroke-linecap="round"/><path d="M617.2 383.5 L623.4 368.3 L639.8 378.4 Z" fill="#111"/>
<path d="M506 405.6 L461 440.8" stroke="#111" stroke-width="2.5" stroke-linecap="round"/>
<path d="M445 453.8 L453.3 432.4 L468.3 449.9 Z" fill="#111"/>
<path d="M429.8 555.5 C437 564.5 449 574.3 463 574.8 C477 575.2 489.5 567.5 499.5 557.5" fill="none" stroke="#111" stroke-width="3" stroke-linecap="round"/>
<path d="M509.6 544.3 L493.3 549.4 L505 566.6 Z" fill="#111"/>
<path d="M534.1 555.5 C541.3 564.5 553.3 574.3 567.3 574.8 C581.3 575.2 594 567.5 604.3 557.5" fill="none" stroke="#111" stroke-width="3" stroke-linecap="round"/>
<path d="M614.4 544.3 L598.1 549.4 L610.2 566.6 Z" fill="#111"/>
</g>

<!-- gel -->
<g id="gel">
<rect x="397.8" y="462.4" width="32.4" height="66.5" fill="#0c0c0c"/>
<rect x="398.6" y="476" width="10.6" height="51" fill="#171717"/><rect x="414.5" y="492" width="12.5" height="14.5" fill="#181818"/><rect x="417.4" y="493.6" width="7" height="1" fill="#3a3a3a"/><rect x="417.4" y="504.6" width="7" height="1" fill="#3a3a3a"/>
<rect x="417.4" y="495.7" width="7" height="7.5" fill="#000"/>
<g fill="#e8e8e8">
<rect x="399.6" y="481.8" width="8.4" height="2" fill="#fff"/>
<rect x="399.6" y="487.3" width="8.4" height="1.4" fill="#999"/>
<rect x="399.6" y="493.4" width="8.4" height="1.6"/>
<rect x="399.6" y="496.3" width="8.4" height="1.5"/>
<rect x="399.6" y="499.6" width="8.4" height="1.6"/>
<rect x="399.6" y="502.5" width="8.4" height="1.5"/>
<rect x="399.6" y="505.8" width="8.4" height="1.8"/>
<rect x="399.6" y="511" width="8.4" height="1.8"/>
<rect x="399.6" y="514" width="8.4" height="1.6"/>
<rect x="399.6" y="517.4" width="8.4" height="1.8"/>
<rect x="399.6" y="522" width="8.4" height="1.6" fill="#888"/>
</g>
</g>

<!-- tube -->
<g id="tube" fill="none" stroke="#333" stroke-linecap="round" stroke-linejoin="round">
<path d="M464 483 L466.5 478.2 L468.5 479 L470 477.9 L479 477.9 L480.3 479.2 L481.5 478.4 L483 483 Z" fill="#5a5a5a" stroke="#444" stroke-width=".6"/>
<path d="M467.5 479.5 V482.6 M470.5 479 V482.6 M474 479 V482.6 M477.5 479 V482.6" stroke="#2e2e2e" stroke-width=".9"/>
<path d="M462.8 484 H483.3" stroke="#444" stroke-width="1.8"/>
<path d="M483 484 C487 484.2 489 482 492.5 481" stroke="#444" stroke-width="1"/>
<path d="M494.5 480.7 L515.7 516.2 C517 519.6 520 521 522 519.4 C523.6 518 523.8 515.4 523 512.6 L507.4 473.8" fill="#fafafa" stroke="#4a4a4a" stroke-width="1.15"/>
<path d="M511.1 484 C514.5 491.5 518 499 520.7 507" stroke="#666" stroke-width=".8"/>
<path d="M497 483 C503 495 509 505 516 515" stroke="#999" stroke-width=".6"/>
<ellipse cx="500.2" cy="475.9" rx="7" ry="2.7" transform="rotate(-21 500.2 475.9)" fill="#fff" stroke="#3a3a3a" stroke-width="1.3"/>
<path d="M493.4 478.6 L494.6 480.6" stroke="#222" stroke-width="2"/>
<path d="M506.9 483.6 L505 489.8" stroke="#1e1e1e" stroke-width="1.5"/>
<path d="M507.8 493.5 L513 496.4 L509.7 498.3 L515.9 503.1 L512.1 505.9 L517.8 509.7 L513 509.7" stroke="#1e1e1e" stroke-width="1.6"/>
<path d="M510.2 491.6 L508.4 496" stroke="#1e1e1e" stroke-width="1.2"/><path d="M514.5 497.5 L518.8 505.5 M516.5 506.5 L519.6 512" stroke="#2a2a2a" stroke-width="1"/>
</g>

<!-- electropherogram -->
<g id="ephe" fill="none" stroke="#333">
<path d="M572.4 460 V519.8 H709.6" stroke-width="1"/>
<path d="M570 488.5 H572.4 M570 514.2 H572.4" stroke-width=".8"/>
<path d="M570 514.2 H584 L585.3 508 L585.9 481 L586.5 508 L588 514.2 H609.9 C612 514 613 506.5 616 506 H625 C628 506.5 629.5 514 631.8 514.2 H674.6 L675.6 505 L676.1 464 L676.7 505 L677.6 514.2 H709.6" stroke-width="1.2" stroke="#2a2a2a"/>
<path d="M676.1 476 V513" stroke-width="1.8" stroke="#2a2a2a"/>
<path d="M585.9 484 V510" stroke-width="1.5" stroke="#2a2a2a"/>
<path d="M583 503.5 H590 M609.5 503.9 H631.4 M673.5 504 H679" stroke-width=".7" stroke="#555"/>
<path d="M585.9 519.8 v3.4 M588.9 519.8 v3.4 M591.9 519.8 v3.4 M599.9 519.8 v3.4 M608.9 519.8 v3.4 M615.9 519.8 v3.4 M629.8 519.8 v3.4 M642.2 519.8 v3.4 M650.4 519.8 v3.4 M664.7 519.8 v3.4 M667.7 519.8 v3.4 M669.7 519.8 v3.4 M676.1 519.8 v3.4" stroke-width=".8"/>
<g font-family="Liberation Sans, sans-serif" font-size="5.2" font-weight="bold" fill="#222" stroke="none">
<text x="555.5" y="462">[FU]</text><text x="562.5" y="490.3">50</text><text x="565" y="516">0</text>
<text x="583" y="530">15</text><text x="596" y="530">100</text><text x="626" y="530">340</text><text x="646.5" y="530">500</text><text x="670.5" y="530">1500</text><text x="705" y="530">[bp]</text>
<text transform="translate(587.5 478) rotate(-62)" x="0" y="0">43.00</text>
<text transform="translate(620 502.5) rotate(-48)" x="0" y="0">68.81</text>
<text transform="translate(679 462.5) rotate(-62)" x="0" y="0">113</text>
</g>
</g>
</svg>
</div>
</body></html>
